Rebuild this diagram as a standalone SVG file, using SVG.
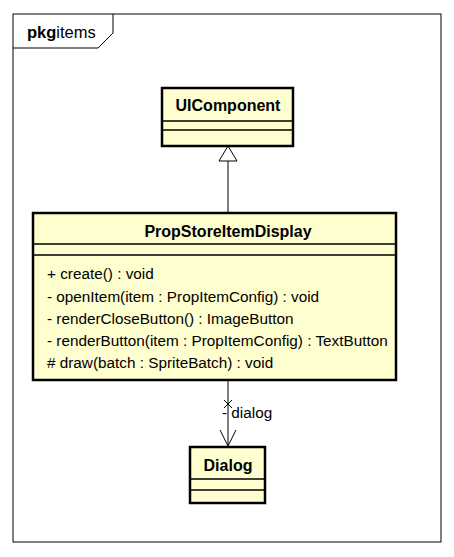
<svg xmlns="http://www.w3.org/2000/svg" width="454" height="557" viewBox="0 0 454 557">
<style>
.box{fill:#FEFECE;stroke:#000;stroke-width:2.5}
.sep{stroke:#000;stroke-width:1.5}
.name{font-family:"Liberation Sans",Arial,sans-serif;font-size:16px;font-weight:bold;text-anchor:middle}
.mem{font-family:"Liberation Sans",Arial,sans-serif;font-size:15.3px}
.ln{stroke:#000;stroke-width:1;fill:none}
</style>
<rect width="454" height="557" fill="#fff"/>
<g id="frame">
<rect x="13" y="14" width="428" height="528" fill="none" stroke="#000" stroke-width="1"/>
<path d="M13,48 H98 L113,33 V14" fill="none" stroke="#000" stroke-width="1"/>
<text x="27" y="38" font-family="Liberation Sans,Arial,sans-serif" font-size="16.5"><tspan font-weight="bold">pkg</tspan>items</text>
</g>
<g id="connectors">
<line class="ln" x1="228" y1="161" x2="228" y2="213"/>
<polygon points="228,146 219,161 237,161" fill="#fff" stroke="#000" stroke-width="1"/>
<line class="ln" x1="228" y1="380" x2="228" y2="446"/>
<polyline class="ln" points="220,430 228,446 236,430"/>
<line class="ln" x1="224" y1="400" x2="232" y2="408"/>
<line class="ln" x1="232" y1="400" x2="224" y2="408"/>
<text class="mem" x="222" y="418">- dialog</text>
</g>
<g id="UIComponent">
<rect class="box" x="162" y="88" width="131" height="58"/>
<line class="sep" x1="162" y1="121" x2="293" y2="121"/>
<line class="sep" x1="162" y1="130" x2="293" y2="130"/>
<text class="name" x="228" y="111">UIComponent</text>
</g>
<g id="PropStoreItemDisplay">
<rect class="box" x="33" y="213" width="363" height="167"/>
<line class="sep" x1="33" y1="244" x2="396" y2="244"/>
<line class="sep" x1="33" y1="255" x2="396" y2="255"/>
<text class="name" x="228" y="237">PropStoreItemDisplay</text>
<text class="mem" x="47" y="279">+ create() : void</text>
<text class="mem" x="47" y="302">- openItem(item : PropItemConfig) : void</text>
<text class="mem" x="47" y="324">- renderCloseButton() : ImageButton</text>
<text class="mem" x="47" y="346">- renderButton(item : PropItemConfig) : TextButton</text>
<text class="mem" x="47" y="368"># draw(batch : SpriteBatch) : void</text>
</g>
<g id="Dialog">
<rect class="box" x="190" y="447" width="75" height="56"/>
<line class="sep" x1="190" y1="479" x2="265" y2="479"/>
<line class="sep" x1="190" y1="490" x2="265" y2="490"/>
<text class="name" x="228" y="471">Dialog</text>
</g>
</svg>
